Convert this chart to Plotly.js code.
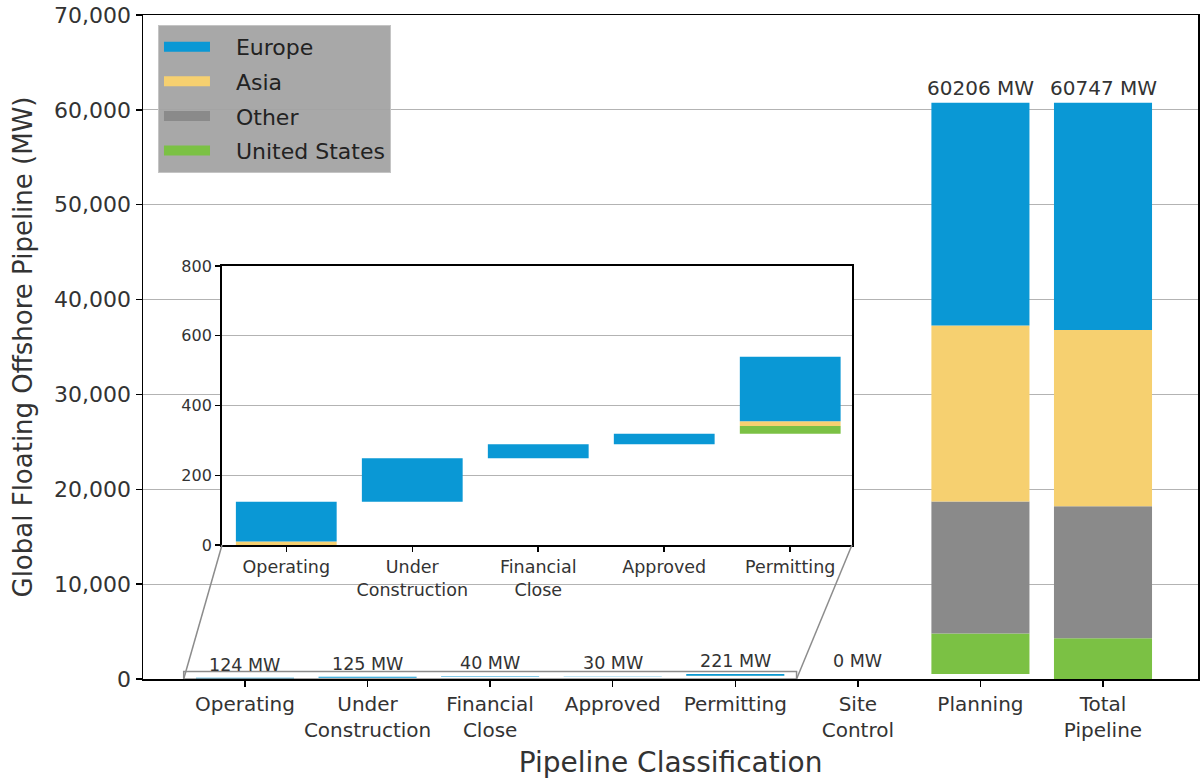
<!DOCTYPE html>
<html><head><meta charset="utf-8">
<script src="https://cdn.plot.ly/plotly-3.0.1.min.js"></script>
<style>html,body{margin:0;padding:0;background:#fff}</style>
</head><body><div id="chart" style="width:1200px;height:779px"></div>
<script>
// ---- data ----
const categories = ['Operating','Under Construction','Financial Close','Approved','Permitting','Site Control','Planning','Total Pipeline'];
const tickLabels = ['Operating','Under<br>Construction','Financial<br>Close','Approved','Permitting','Site<br>Control','Planning','Total<br>Pipeline'];
const europe       = [114, 125, 40, 30, 185, 0, 23469, 23964];
const asia         = [10,   0,  0,  0,  14, 0, 18559, 18583];
const other        = [0,    0,  0,  0,   0, 0, 13909, 13909];
const unitedStates = [0,    0,  0,  0,  22, 0,  4269,  4291];
const yTicks = [0,10000,20000,30000,40000,50000,60000,70000];
const insetCount = 5;
const insetYTicks = [0,200,400,600,800];

// ---- derived waterfall bases ----
const stageTotals = categories.map((c,i)=>europe[i]+asia[i]+other[i]+unitedStates[i]);
const offsets = []; let run = 0;
categories.forEach((c,i)=>{ if(c==='Total Pipeline'){offsets.push(0);} else {offsets.push(run); run += stageTotals[i];} });

const series = [
  {name:'United States', values: unitedStates, color:'#7bc144'},
  {name:'Other', values: other, color:'#8a8a8a'},
  {name:'Asia', values: asia, color:'#f6d070'},
  {name:'Europe', values: europe, color:'#0a98d5'}
];
let cum = offsets.slice();
series.forEach(s=>{ s.base = cum.slice(); cum = cum.map((v,i)=>v+s.values[i]); });

const FONT = 'DejaVu Sans';
const traces = [];
series.forEach(s=>{
  traces.push({type:'bar', x:categories, y:s.values, base:s.base, width:0.8,
    marker:{color:s.color, line:{width:0}}, xaxis:'x', yaxis:'y', showlegend:false, hoverinfo:'skip'});
  traces.push({type:'bar', x:categories.slice(0,insetCount), y:s.values.slice(0,insetCount),
    base:s.base.slice(0,insetCount), width:0.8,
    marker:{color:s.color, line:{width:0}}, xaxis:'x2', yaxis:'y2', showlegend:false, hoverinfo:'skip'});
});
// legend entries (Europe first)
series.slice().reverse().forEach(s=>{
  traces.push({type:'scatter', mode:'lines', x:[null], y:[null], name:'\u00a0\u00a0\u00a0'+s.name, legendgroup:s.name,
    line:{color:s.color, width:18}, xaxis:'x', yaxis:'y', hoverinfo:'skip'});
});

const xRange = [-0.832, 7.775];
const insetXRange = [-0.51, 4.49];
const insetDomX = [0.0749, 0.672];
const insetDomY = [0.2018, 0.622];
const toPaperX = v => (v - xRange[0])/(xRange[1]-xRange[0]);

const annotations = categories.map((c,i)=>({
  x:c, y:offsets[i]+stageTotals[i], xref:'x', yref:'y', text: stageTotals[i]+' MW',
  showarrow:false, yanchor:'bottom', yshift:1,
  font:{family:FONT, size: stageTotals[i] > 10000 ? 20 : 17.5, color:'#333'}
}));

const shapes = [
  {type:'rect', xref:'x2', yref:'y2', x0:insetXRange[0], x1:insetXRange[1], y0:0, y1:800,
   fillcolor:'#ffffff', line:{width:0}, layer:'below'},
  {type:'rect', xref:'x', yref:'y', x0:-0.5, x1:4.5, y0:0, y1:800,
   line:{color:'#8c8c8c', width:1.5}, fillcolor:'rgba(0,0,0,0)', layer:'above'},
  {type:'line', xref:'paper', yref:'paper', x0:insetDomX[0], y0:insetDomY[0], x1:toPaperX(-0.5), y1:0,
   line:{color:'#8c8c8c', width:1.5}, layer:'above'},
  {type:'line', xref:'paper', yref:'paper', x0:insetDomX[1], y0:insetDomY[0], x1:toPaperX(4.5), y1:0,
   line:{color:'#8c8c8c', width:1.5}, layer:'above'}
];

const layout = {
  width:1200, height:779,
  margin:{l:143, r:2, t:15, b:100},
  paper_bgcolor:'#fff', plot_bgcolor:'#fff',
  font:{family:FONT, color:'#333'},
  barmode:'overlay',
  showlegend:true,
  legend:{x:0.0142, y:0.985, xanchor:'left', yanchor:'top', bgcolor:'rgba(163,163,163,0.95)',
    bordercolor:'#c4c4c4', borderwidth:1, font:{family:FONT, size:22, color:'#222'},
    traceorder:'grouped', tracegroupgap:3, itemwidth:46},
  xaxis:{type:'category', range:xRange, tickvals:categories, ticktext:tickLabels,
    ticks:'outside', ticklen:6, tickwidth:1.5, tickcolor:'#000',
    showline:true, linecolor:'#000', linewidth:1.5, mirror:true, showgrid:false, zeroline:false,
    tickfont:{family:FONT, size:20, color:'#333'},
    title:{text:'Pipeline Classification', font:{family:FONT, size:28, color:'#333'}, standoff:12}},
  yaxis:{range:[0,70000], tickvals:yTicks, tickformat:',d',
    ticks:'outside', ticklen:6, tickwidth:1.5, tickcolor:'#000',
    showline:true, linecolor:'#000', linewidth:1.5, mirror:true, showgrid:true, gridcolor:'#b3b3b3', gridwidth:1,
    zeroline:false, tickfont:{family:FONT, size:22, color:'#333'},
    title:{text:'Global Floating Offshore Pipeline (MW)', font:{family:FONT, size:26, color:'#333'}, standoff:14}},
  xaxis2:{domain:insetDomX, anchor:'y2', type:'category', range:insetXRange,
    tickvals:categories.slice(0,insetCount), ticktext:tickLabels.slice(0,insetCount),
    ticks:'outside', ticklen:5, tickwidth:1.5, tickcolor:'#000',
    showline:true, linecolor:'#000', linewidth:2, mirror:true, showgrid:false, zeroline:false,
    tickfont:{family:FONT, size:17.5, color:'#333'}},
  yaxis2:{domain:insetDomY, anchor:'x2', range:[0,800], tickvals:insetYTicks,
    ticks:'outside', ticklen:5, tickwidth:1.5, tickcolor:'#000',
    showline:true, linecolor:'#000', linewidth:2, mirror:true, showgrid:true, gridcolor:'#b3b3b3', gridwidth:1,
    zeroline:false, tickfont:{family:FONT, size:16, color:'#333'}},
  annotations: annotations,
  shapes: shapes
};
Plotly.newPlot('chart', traces, layout, {displayModeBar:false, staticPlot:true});
</script></body></html>
